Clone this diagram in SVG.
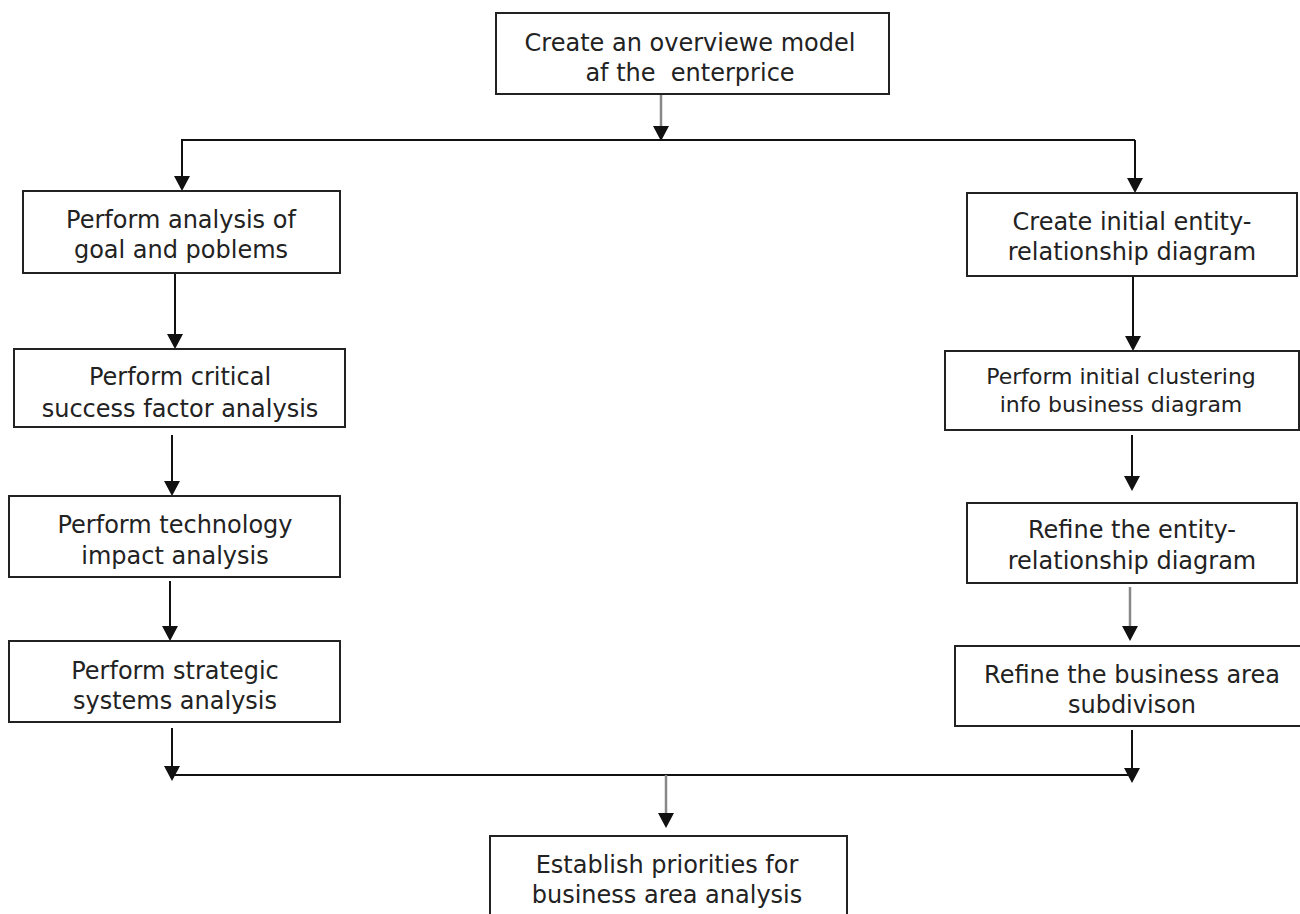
<svg xmlns="http://www.w3.org/2000/svg" width="1300" height="914" viewBox="0 0 1300 914">
<defs>
<style>
.box{fill:#fff;stroke:#222;stroke-width:2}
.t{font-family:"DejaVu Sans","Liberation Sans",sans-serif;font-size:24px;fill:#222;text-anchor:middle}
.ts{font-size:22px}
.ln{fill:none;stroke:#111;stroke-width:2}
.lg{fill:none;stroke:#888;stroke-width:2.5}
.ah{fill:#111}
</style>
</defs>
<rect width="1300" height="914" fill="#fff"/>
<g id="connectors">
<line class="lg" x1="661" y1="94" x2="661" y2="126"/>
<path class="ah" d="M653,126 L669,126 L661,141 Z"/>
<line class="ln" x1="181" y1="140" x2="1135" y2="140"/>
<line class="ln" x1="182" y1="140" x2="182" y2="176"/>
<path class="ah" d="M174,176 L190,176 L182,191 Z"/>
<line class="ln" x1="1135" y1="140" x2="1135" y2="178"/>
<path class="ah" d="M1127,178 L1143,178 L1135,193 Z"/>
<line class="ln" x1="175" y1="273" x2="175" y2="334"/>
<path class="ah" d="M167,334 L183,334 L175,349 Z"/>
<line class="ln" x1="172" y1="435" x2="172" y2="481"/>
<path class="ah" d="M164,481 L180,481 L172,496 Z"/>
<line class="ln" x1="170" y1="581" x2="170" y2="626"/>
<path class="ah" d="M162,626 L178,626 L170,641 Z"/>
<line class="ln" x1="172" y1="728" x2="172" y2="766"/>
<path class="ah" d="M164,766 L180,766 L172,781 Z"/>
<line class="ln" x1="1133" y1="276" x2="1133" y2="336"/>
<path class="ah" d="M1125,336 L1141,336 L1133,351 Z"/>
<line class="ln" x1="1132" y1="435" x2="1132" y2="476"/>
<path class="ah" d="M1124,476 L1140,476 L1132,491 Z"/>
<line class="lg" x1="1130" y1="587" x2="1130" y2="626"/>
<path class="ah" d="M1122,626 L1138,626 L1130,641 Z"/>
<line class="ln" x1="1132" y1="730" x2="1132" y2="768"/>
<path class="ah" d="M1124,768 L1140,768 L1132,783 Z"/>
<line class="ln" x1="172" y1="775" x2="1132" y2="775"/>
<line class="lg" x1="666" y1="775" x2="666" y2="813"/>
<path class="ah" d="M658,813 L674,813 L666,828 Z"/>
</g>
<g id="n_top">
<rect class="box" x="496" y="13" width="393" height="81"/>
<text class="t" x="690" y="51">Create an overviewe model</text>
<text class="t" x="690" y="81" xml:space="preserve">af the  enterprice</text>
</g>
<g id="n_l1">
<rect class="box" x="23" y="191" width="317" height="82"/>
<text class="t" x="181" y="228">Perform analysis of</text>
<text class="t" x="181" y="258">goal and poblems</text>
</g>
<g id="n_l2">
<rect class="box" x="14" y="349" width="331" height="78"/>
<text class="t" x="180" y="385">Perform critical</text>
<text class="t" x="180" y="417">success factor analysis</text>
</g>
<g id="n_l3">
<rect class="box" x="9" y="496" width="331" height="81"/>
<text class="t" x="175" y="533">Perform technology</text>
<text class="t" x="175" y="564">impact analysis</text>
</g>
<g id="n_l4">
<rect class="box" x="9" y="641" width="331" height="81"/>
<text class="t" x="175" y="679">Perform strategic</text>
<text class="t" x="175" y="709">systems analysis</text>
</g>
<g id="n_r1">
<rect class="box" x="967" y="193" width="330" height="83"/>
<text class="t" x="1132" y="230">Create initial entity-</text>
<text class="t" x="1132" y="260">relationship diagram</text>
</g>
<g id="n_r2">
<rect class="box" x="945" y="351" width="354" height="79"/>
<text class="t ts" x="1121" y="384">Perform initial clustering</text>
<text class="t ts" x="1121" y="412">info business diagram</text>
</g>
<g id="n_r3">
<rect class="box" x="967" y="503" width="330" height="80"/>
<text class="t" x="1132" y="538">Refine the entity-</text>
<text class="t" x="1132" y="569">relationship diagram</text>
</g>
<g id="n_r4">
<rect class="box" x="955" y="646" width="350" height="80"/>
<text class="t" x="1132" y="683">Refine the business area</text>
<text class="t" x="1132" y="713">subdivison</text>
</g>
<g id="n_bottom">
<rect class="box" x="490" y="836" width="357" height="90"/>
<text class="t" x="667" y="873">Establish priorities for</text>
<text class="t" x="667" y="903">business area analysis</text>
</g>
</svg>
